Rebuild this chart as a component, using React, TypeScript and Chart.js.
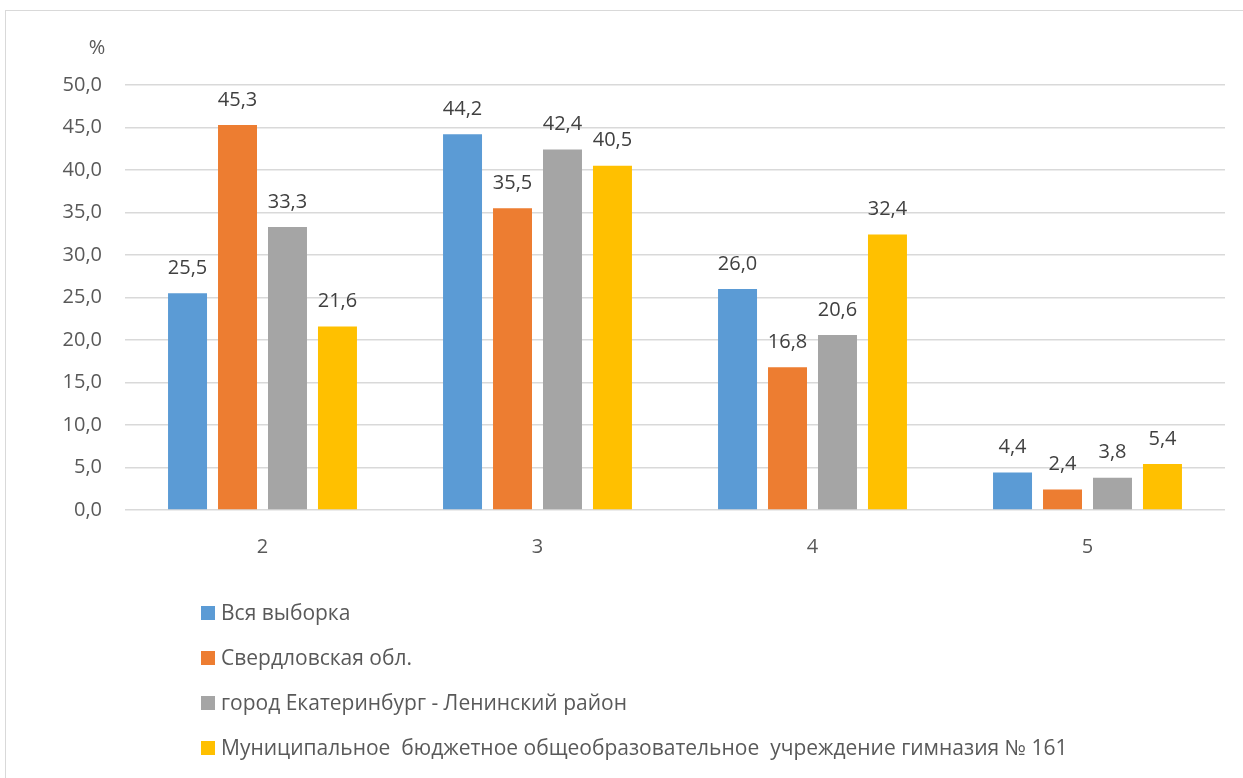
import React, { useEffect, useRef } from "react";
import { Chart, registerables } from "chart.js";

Chart.register(...registerables);

const categories = ["2", "3", "4", "5"];
const seriesNames = [
  "Вся выборка",
  "Свердловская обл.",
  "город Екатеринбург - Ленинский район",
  "Муниципальное  бюджетное общеобразовательное  учреждение гимназия № 161",
];
const allSample = [25.5, 44.2, 26.0, 4.4];
const sverdlovsk = [45.3, 35.5, 16.8, 2.4];
const leninsky = [33.3, 42.4, 20.6, 3.8];
const gymnasium = [21.6, 40.5, 32.4, 5.4];
const seriesColors = ["#5B9BD5", "#ED7D31", "#A5A5A5", "#FFC000"];
const yMin = 0;
const yMax = 50;
const yStep = 5;
const yUnit = "%";

const FONT = "'Open Sans', Lato, sans-serif";
const fmt = (v: number) => v.toFixed(1).replace(".", ",");

const decorPlugin = {
  id: "decor",
  beforeDraw(chart: any) {
    const ctx = chart.ctx;
    ctx.save();
    ctx.strokeStyle = "#d9d9d9";
    ctx.lineWidth = 1;
    ctx.strokeRect(5.5, 10.5, chart.width + 20, chart.height + 20);
    ctx.restore();
  },
  afterDraw(chart: any) {
    const ctx = chart.ctx;
    ctx.save();
    ctx.font = `20px ${FONT}`;
    ctx.fillStyle = "#595959";
    ctx.textAlign = "center";
    ctx.textBaseline = "middle";
    ctx.fillText(yUnit, 97, 48);
    ctx.fillStyle = "#404040";
    chart.data.datasets.forEach((ds: any, i: number) => {
      const meta = chart.getDatasetMeta(i);
      meta.data.forEach((bar: any, j: number) => {
        ctx.fillText(fmt(ds.data[j]), bar.x, bar.y - 25);
      });
    });
    ctx.textAlign = "left";
    ctx.font = `21px ${FONT}`;
    chart.data.datasets.forEach((ds: any, i: number) => {
      const cy = 613 + i * 45;
      ctx.fillStyle = ds.backgroundColor;
      ctx.fillRect(201, cy - 7, 14, 14);
      ctx.fillStyle = "#595959";
      ctx.fillText(ds.label, 221, cy + 1);
    });
    ctx.restore();
  },
};

export default function App() {
  const ref = useRef<HTMLCanvasElement>(null);
  useEffect(() => {
    if (!ref.current) return;
    const data = [allSample, sverdlovsk, leninsky, gymnasium];
    const chart = new Chart(ref.current, {
      type: "bar",
      data: {
        labels: categories,
        datasets: data.map((d, i) => ({
          label: seriesNames[i],
          data: d,
          backgroundColor: seriesColors[i],
          borderWidth: 0,
          barPercentage: 0.78,
          categoryPercentage: 0.727,
        })),
      },
      options: {
        animation: false,
        responsive: false,
        maintainAspectRatio: false,
        layout: { padding: { left: 0, right: 18, top: 85, bottom: 218 } },
        plugins: { legend: { display: false }, tooltip: { enabled: false } },
        scales: {
          x: {
            grid: { display: false, drawTicks: false },
            border: { display: false },
            ticks: { padding: 25, color: "#595959", font: { family: FONT, size: 20 } },
            afterFit: (s: any) => { s.height = 50; },
          },
          y: {
            min: yMin,
            max: yMax,
            ticks: {
              stepSize: yStep,
              padding: 23,
              color: "#595959",
              font: { family: FONT, size: 20 },
              callback: (v: any) => fmt(Number(v)),
            },
            grid: { color: "#d9d9d9", lineWidth: 1.5, drawTicks: false },
            border: { display: false },
            afterFit: (s: any) => { s.width = 125; },
          },
        },
      },
      plugins: [decorPlugin],
    });
    return () => chart.destroy();
  }, []);
  return (
    <div style={{ position: "fixed", left: 0, top: 0, width: 1243, height: 778, background: "#fff" }}>
      <canvas ref={ref} width={1243} height={778} style={{ width: 1243, height: 778, display: "block" }} />
    </div>
  );
}
